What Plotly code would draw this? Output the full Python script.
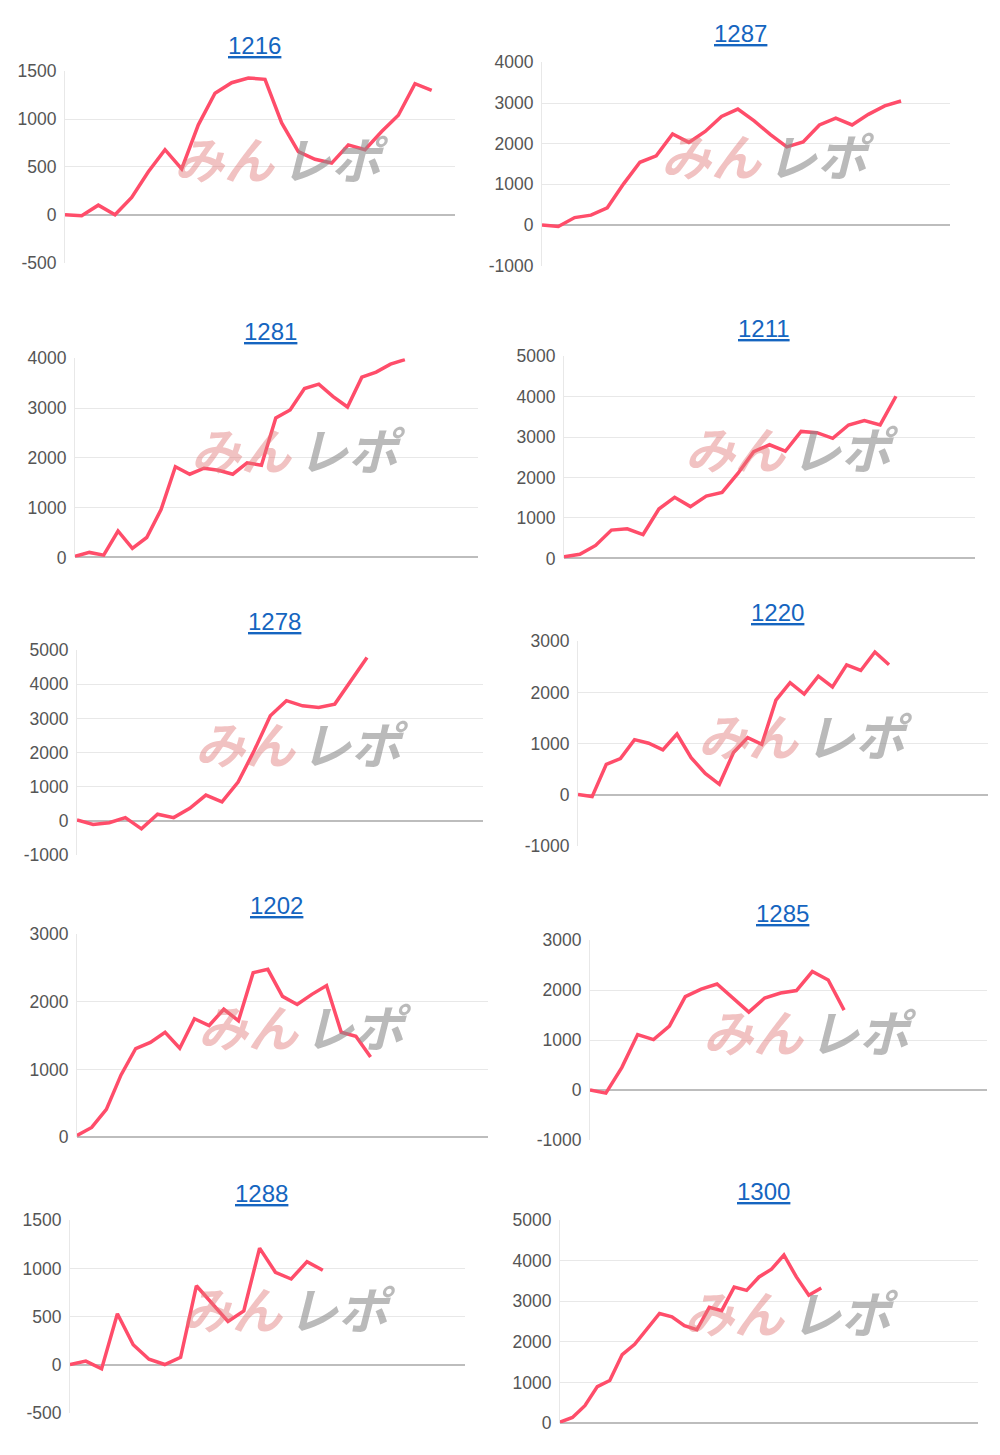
import plotly.graph_objects as go

OFF = 8
W, H = 1000 - 2 * OFF, 1455 - 2 * OFF

titles = ["1216", "1287", "1281", "1211", "1278", "1220", "1202", "1285", "1288", "1300"]

v1216 = [0, -10, 100, 0, 180, 450, 680, 480, 940, 1270, 1380, 1430, 1415, 960, 660, 580, 540, 730, 680, 870, 1040, 1370, 1300]
v1287 = [0, -40, 180, 240, 420, 1010, 1540, 1700, 2240, 2030, 2300, 2670, 2850, 2560, 2220, 1920, 2040, 2460, 2630, 2460, 2720, 2930, 3050]
v1281 = [20, 100, 45, 530, 180, 400, 960, 1820, 1670, 1790, 1750, 1670, 1900, 1850, 2800, 2960, 3390, 3480, 3230, 3020, 3620, 3720, 3880, 3970]
v1211 = [40, 100, 320, 700, 730, 590, 1220, 1510, 1280, 1540, 1630, 2100, 2640, 2810, 2650, 3140, 3110, 2970, 3300, 3410, 3300, 4010]
v1278 = [30, -100, -50, 100, -230, 200, 100, 370, 760, 560, 1140, 2060, 3080, 3520, 3370, 3320, 3420, 4100, 4780]
v1220 = [10, -30, 600, 710, 1080, 1010, 880, 1190, 730, 420, 210, 830, 1120, 990, 1850, 2190, 1970, 2320, 2110, 2540, 2430, 2790, 2540]
v1202 = [25, 145, 410, 920, 1310, 1400, 1550, 1315, 1750, 1650, 1890, 1720, 2430, 2480, 2080, 1960, 2110, 2240, 1550, 1490, 1185]
v1285 = [5, -60, 450, 1110, 1010, 1280, 1870, 2020, 2120, 1840, 1560, 1840, 1940, 1990, 2370, 2200, 1600]
v1288 = [5, 40, -40, 530, 210, 60, 5, 80, 820, 640, 450, 560, 1210, 960, 890, 1070, 980]
v1300 = [25, 140, 430, 900, 1050, 1690, 1940, 2310, 2700, 2620, 2400, 2300, 2850, 2770, 3350, 3270, 3600, 3790, 4140, 3600, 3150, 3330]

series = [v1216, v1287, v1281, v1211, v1278, v1220, v1202, v1285, v1288, v1300]
y_ranges = [[-500, 1500], [-1000, 4000], [0, 4000], [0, 5000], [-1000, 5000],
            [-1000, 3000], [0, 3000], [-1000, 3000], [-500, 1500], [0, 5000]]
y_dtick = [500, 1000, 1000, 1000, 1000, 1000, 1000, 1000, 500, 1000]
x_slots = [23.4, 25, 28.1, 26, 25.2, 29, 28, 25, 25, 33.6]

# plot boxes in pixels: left, right, top, bottom, title_y
boxes = [
    (65, 455, 62, 256, 36),
    (542, 950, 53, 259, 24),
    (75, 478, 353, 555, 326),
    (564, 975, 351, 556, 323),
    (77, 483, 649, 857, 620),
    (578, 988, 640, 848, 611),
    (77, 488, 937, 1143, 908),
    (590, 987, 943, 1146, 916),
    (70, 465, 1227, 1423, 1200),
    (560, 978, 1227, 1433, 1198),
]

def px(x):
    return (x - OFF) / W

def py(y):
    return 1 - (y - OFF) / H

fig = go.Figure()
annotations = []
for i, (vals, box) in enumerate(zip(series, boxes)):
    l, r, t, b, ty = box
    xa = "x" if i == 0 else f"x{i+1}"
    ya = "y" if i == 0 else f"y{i+1}"
    fig.add_trace(go.Scatter(x=list(range(len(vals))), y=vals, mode="lines",
                             line=dict(color="#FF4D6A", width=3.5),
                             xaxis=xa, yaxis=ya, showlegend=False, hoverinfo="skip"))
    kx = "xaxis" if i == 0 else f"xaxis{i+1}"
    ky = "yaxis" if i == 0 else f"yaxis{i+1}"
    lo, hi = y_ranges[i]
    tv = list(range(lo, hi + 1, y_dtick[i]))
    fig.layout[kx] = dict(domain=[px(l), px(r)], range=[0, x_slots[i]], showticklabels=False,
                          showgrid=False, zeroline=False, anchor=ya, fixedrange=True,
                          showline=False)
    fig.layout[ky] = dict(domain=[py(b), py(t)], range=y_ranges[i],
                          tickvals=tv, ticktext=[str(v) for v in tv],
                          showgrid=True, gridcolor="#E8E8E8", gridwidth=1,
                          zeroline=True, zerolinecolor="#BDBDBD", zerolinewidth=1.5,
                          showline=True, linecolor="#E8E8E8", linewidth=1,
                          tickfont=dict(size=17.5, color="#555555", family="Liberation Sans"),
                          ticks="", ticklabelstandoff=4, anchor=xa, fixedrange=True)
    annotations.append(dict(text=f"<u>{titles[i]}</u>", x=px((l + r) / 2 - 6), y=py(ty),
                            xref="paper", yref="paper", showarrow=False,
                            font=dict(size=24, color="#1565C0", family="Liberation Sans"),
                            xanchor="center", yanchor="middle"))
    cx = l + 0.55 * (r - l)
    cy = t + 0.45 * (b - t)
    annotations.append(dict(text="<b><i>みん</i></b>", x=px(cx - 55), y=py(cy),
                            xref="paper", yref="paper", showarrow=False,
                            font=dict(size=50, color="rgba(225,120,120,0.45)", family="Noto Sans CJK JP"),
                            xanchor="center", yanchor="middle"))
    annotations.append(dict(text="<b><i>レポ</i></b>", x=px(cx + 55), y=py(cy),
                            xref="paper", yref="paper", showarrow=False,
                            font=dict(size=50, color="rgba(140,140,140,0.6)", family="Noto Sans CJK JP"),
                            xanchor="center", yanchor="middle"))

fig.update_layout(width=W, height=H, margin=dict(l=0, r=0, t=0, b=0),
                  paper_bgcolor="white", plot_bgcolor="white", annotations=annotations)
fig.write_html("out.html")
